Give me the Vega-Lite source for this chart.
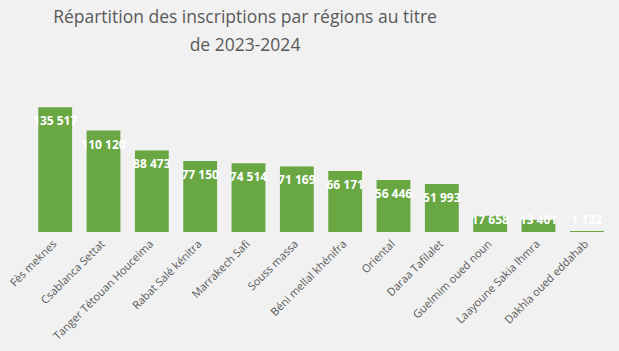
{
  "$schema": "https://vega.github.io/schema/vega-lite/v6.json",
  "autosize": "none",
  "width": 580,
  "height": 129,
  "padding": {"left": 31, "top": 103, "right": 8, "bottom": 119},
  "background": "#f1f1f1",
  "title": {
    "text": ["Répartition des inscriptions par régions au titre", "de 2023-2024"],
    "font": "Open Sans",
    "fontSize": 17.5,
    "fontWeight": "normal",
    "color": "#595959",
    "lineHeight": 28,
    "offset": 49,
    "dx": -76
  },
  "data": {
    "values": [
      {"region": "Fès meknes", "inscriptions": 135517, "label": "135 517"},
      {"region": "Csablanca Settat", "inscriptions": 110120, "label": "110 120"},
      {"region": "Tanger Tétouan Houceima", "inscriptions": 88473, "label": "88 473"},
      {"region": "Rabat Salé kénitra", "inscriptions": 77150, "label": "77 150"},
      {"region": "Marrakech Safi", "inscriptions": 74514, "label": "74 514"},
      {"region": "Souss massa", "inscriptions": 71169, "label": "71 169"},
      {"region": "Béni mellal khénifra", "inscriptions": 66171, "label": "66 171"},
      {"region": "Oriental", "inscriptions": 56446, "label": "56 446"},
      {"region": "Daraa Tafilalet", "inscriptions": 51993, "label": "51 993"},
      {"region": "Guelmim oued noun", "inscriptions": 17658, "label": "17 658"},
      {"region": "Laayoune Sakia lhmra", "inscriptions": 13401, "label": "13 401"},
      {"region": "Dakhla oued eddahab", "inscriptions": 1132, "label": "1 132"}
    ]
  },
  "encoding": {
    "x": {
      "field": "region",
      "type": "nominal",
      "sort": null,
      "scale": {"paddingInner": 0.3, "paddingOuter": 0.15},
      "axis": {
        "title": null,
        "labelAngle": -45,
        "labelAlign": "right",
        "labelBaseline": "middle",
        "labelFont": "Open Sans",
        "labelFontSize": 11,
        "labelColor": "#595959",
        "labelPadding": 10,
        "ticks": false,
        "domain": false
      }
    }
  },
  "layer": [
    {
      "mark": {"type": "bar", "color": "#69a743"},
      "encoding": {
        "y": {
          "field": "inscriptions",
          "type": "quantitative",
          "scale": {"domain": [0, 140000], "nice": false},
          "axis": null
        }
      }
    },
    {
      "transform": [{"filter": "datum.inscriptions >= 25000"}],
      "mark": {"type": "text", "color": "white", "font": "Open Sans", "fontWeight": "bold", "fontSize": 12, "dy": 14},
      "encoding": {
        "y": {"field": "inscriptions", "type": "quantitative"},
        "text": {"field": "label"}
      }
    },
    {
      "transform": [{"filter": "datum.inscriptions < 25000"}],
      "mark": {"type": "text", "color": "white", "font": "Open Sans", "fontWeight": "bold", "fontSize": 12, "dy": -12},
      "encoding": {
        "y": {"datum": 0, "type": "quantitative"},
        "text": {"field": "label"}
      }
    }
  ],
  "config": {"view": {"stroke": null}}
}
